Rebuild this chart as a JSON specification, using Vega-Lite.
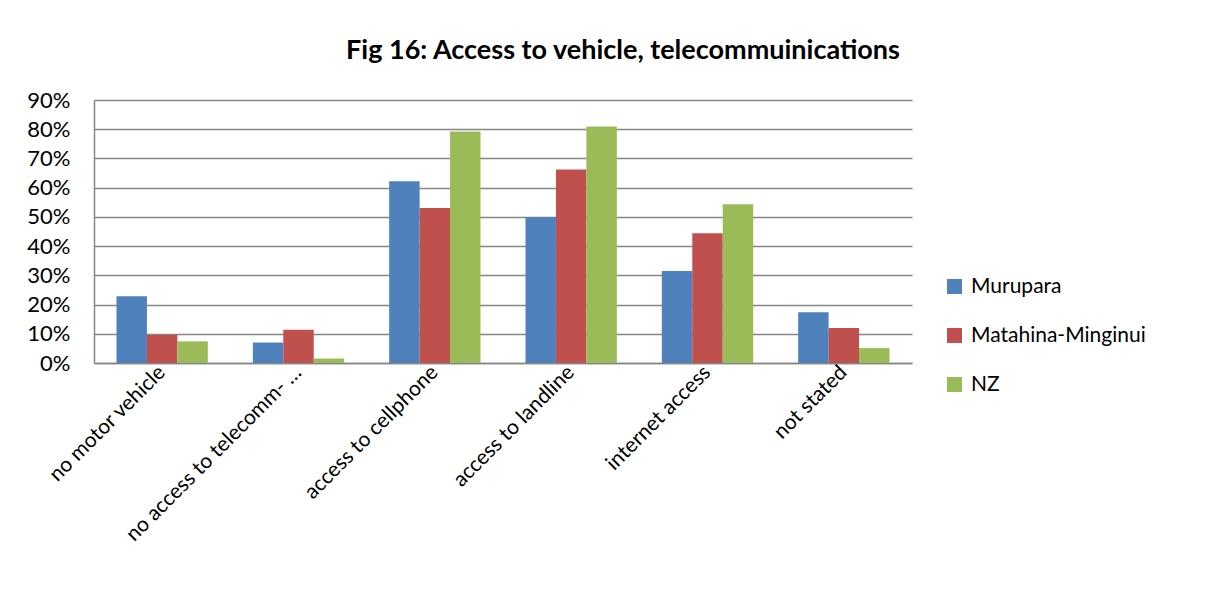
{
  "$schema": "https://vega.github.io/schema/vega-lite/v6.json",
  "width": 818,
  "height": 263,
  "autosize": "none",
  "padding": {"left": 94, "top": 100, "right": 296, "bottom": 235},
  "background": "white",
  "title": {
    "text": "Fig 16: Access to vehicle, telecommuinications",
    "font": "Lato",
    "fontSize": 27,
    "fontWeight": "bold",
    "color": "#000000",
    "anchor": "middle",
    "dx": 120,
    "offset": 24
  },
  "data": {
    "values": [
      {"category": "no motor vehicle", "series": "Murupara", "value": 0.228},
      {"category": "no motor vehicle", "series": "Matahina-Minginui", "value": 0.096},
      {"category": "no motor vehicle", "series": "NZ", "value": 0.074},
      {"category": "no access to telecomm- …", "series": "Murupara", "value": 0.070},
      {"category": "no access to telecomm- …", "series": "Matahina-Minginui", "value": 0.114},
      {"category": "no access to telecomm- …", "series": "NZ", "value": 0.015},
      {"category": "access to cellphone", "series": "Murupara", "value": 0.622},
      {"category": "access to cellphone", "series": "Matahina-Minginui", "value": 0.530},
      {"category": "access to cellphone", "series": "NZ", "value": 0.792},
      {"category": "access to landline", "series": "Murupara", "value": 0.498},
      {"category": "access to landline", "series": "Matahina-Minginui", "value": 0.662},
      {"category": "access to landline", "series": "NZ", "value": 0.809},
      {"category": "internet access", "series": "Murupara", "value": 0.315},
      {"category": "internet access", "series": "Matahina-Minginui", "value": 0.444},
      {"category": "internet access", "series": "NZ", "value": 0.543},
      {"category": "not stated", "series": "Murupara", "value": 0.174},
      {"category": "not stated", "series": "Matahina-Minginui", "value": 0.120},
      {"category": "not stated", "series": "NZ", "value": 0.051}
    ]
  },
  "mark": {"type": "bar"},
  "encoding": {
    "x": {
      "field": "category",
      "type": "nominal",
      "sort": ["no motor vehicle", "no access to telecomm- …", "access to cellphone", "access to landline", "internet access", "not stated"],
      "scale": {"paddingInner": 0.33, "paddingOuter": 0.165},
      "axis": {
        "title": null,
        "labelAngle": -45,
        "labelAlign": "right",
        "labelBaseline": "middle",
        "labelFont": "Lato",
        "labelFontSize": 21,
        "labelColor": "#000000",
        "labelPadding": 6,
        "labelLimit": 400,
        "domainColor": "#868686",
        "domainWidth": 1.5,
        "ticks": false
      }
    },
    "xOffset": {
      "field": "series",
      "type": "nominal",
      "sort": ["Murupara", "Matahina-Minginui", "NZ"],
      "scale": {"paddingInner": 0, "paddingOuter": 0}
    },
    "y": {
      "field": "value",
      "type": "quantitative",
      "scale": {"domain": [0, 0.9], "nice": false},
      "axis": {
        "title": null,
        "format": ".0%",
        "values": [0, 0.1, 0.2, 0.3, 0.4, 0.5, 0.6, 0.7, 0.8, 0.9],
        "labelFont": "Lato",
        "labelFontSize": 22,
        "labelColor": "#000000",
        "labelPadding": 24,
        "gridColor": "#868686",
        "gridWidth": 1.5,
        "domainColor": "#868686",
        "domainWidth": 1.5,
        "ticks": false
      }
    },
    "color": {
      "field": "series",
      "type": "nominal",
      "sort": ["Murupara", "Matahina-Minginui", "NZ"],
      "scale": {"domain": ["Murupara", "Matahina-Minginui", "NZ"], "range": ["#4F81BD", "#C0504D", "#9BBB59"]},
      "legend": {
        "title": null,
        "orient": "none",
        "legendX": 850,
        "legendY": 176,
        "symbolType": "square",
        "symbolSize": 225,
        "symbolStrokeWidth": 0,
        "labelFont": "Lato",
        "labelFontSize": 21,
        "labelColor": "#000000",
        "labelOffset": 6,
        "labelLimit": 300,
        "rowPadding": 27
      }
    }
  },
  "config": {"view": {"stroke": null}}
}
